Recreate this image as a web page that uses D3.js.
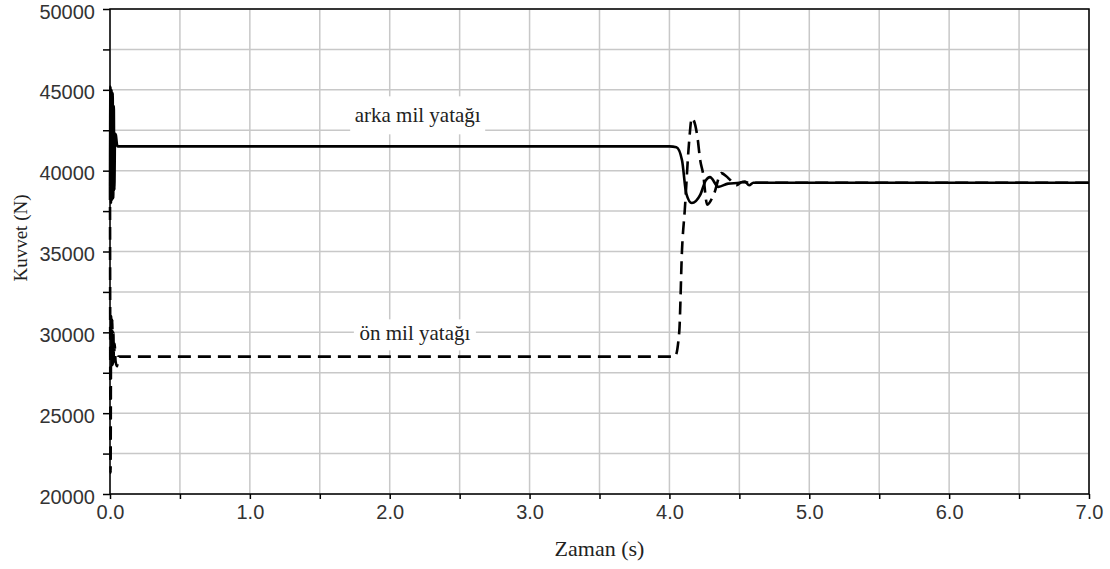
<!DOCTYPE html>
<html>
<head>
<meta charset="utf-8">
<script src="https://cdn.jsdelivr.net/npm/d3@7"></script>
<style>
  body { margin: 0; background: #fff; }
  .tick text { font-family: "Liberation Sans", Arial, sans-serif; font-size: 20px; fill: #333; }
  .ttl { font-family: "Liberation Serif", "Times New Roman", serif; fill: #222; }
</style>
</head>
<body>
<div id="chart"></div>
<script>
var width = 1110, height = 569;
var margin = {left: 110, right: 21, top: 9, bottom: 75};

// arka mil yatagi (solid)
let rearT = [0, 0.003, 0.007, 0.011, 0.015, 0.019, 0.023, 0.027, 0.031, 0.036, 0.042, 0.05, 0.056,
  4.0, 4.05, 4.09, 4.12, 4.16, 4.22, 4.26, 4.29, 4.35, 4.42, 4.5, 4.54, 4.57, 4.6, 7.0];
let rearF = [39000, 45200, 38000, 45000, 38200, 44800, 38300, 44000, 38800, 42300, 42200, 41600, 41500,
  41500, 41450, 40650, 38600, 38000, 38500, 39400, 39600, 39000, 39200, 39250, 39320, 39100, 39250, 39250];

// on mil yatagi (dashed)
let frontT = [0, 0.004, 0.008, 0.012, 0.016, 0.02, 0.024, 0.028, 0.033, 0.04, 0.05, 0.06,
  4.04, 4.07, 4.09, 4.11, 4.14, 4.16, 4.2, 4.22, 4.24, 4.27, 4.32, 4.37, 4.42, 4.48, 4.52, 4.58, 7.0];
let frontF = [39000, 21300, 31000, 27800, 30800, 28000, 30000, 28200, 29300, 28200, 27900, 28500,
  28500, 30000, 35100, 37600, 41700, 43250, 42100, 40650, 39850, 37900, 38600, 39850, 39550, 39100, 39300, 39250, 39250];

let xTicks = [0, 1, 2, 3, 4, 5, 6, 7];
let yTicks = [20000, 25000, 30000, 35000, 40000, 45000, 50000];

let svg = d3.select('#chart')
  .append('svg')
  .attr('width', width)
  .attr('height', height)

let x = d3.scaleLinear().domain([0, 7]).range([margin.left, width - margin.right]);
let y = d3.scaleLinear().domain([20000, 50000]).range([height - margin.bottom, margin.top]);

let xMinor = d3.range(0, 7.01, 0.5);
let yMinor = d3.range(20000, 50001, 2500);

// grid
svg.append('g').selectAll('line').data(xMinor).enter().append('line')
  .attr('x1', d => x(d)).attr('x2', d => x(d))
  .attr('y1', y(20000)).attr('y2', y(50000))
  .attr('stroke', '#c8c8c8').attr('stroke-width', 1.5)
svg.append('g').selectAll('line').data(yMinor).enter().append('line')
  .attr('y1', d => y(d)).attr('y2', d => y(d))
  .attr('x1', x(0)).attr('x2', x(7))
  .attr('stroke', '#c8c8c8').attr('stroke-width', 1.5)

// label boxes (cover grid)
let labels = [
  {text: 'arka mil yatağı', t: 2.2, f: 43000, w: 135, h: 38},
  {text: 'ön mil yatağı', t: 2.18, f: 29500, w: 122, h: 31}
];
labels.forEach(l => {
  svg.append('rect')
    .attr('x', x(l.t) - l.w / 2)
    .attr('y', y(l.f) - l.h * 0.68)
    .attr('width', l.w).attr('height', l.h)
    .attr('fill', '#fff')
})

// lines
let line = d3.line().x(d => x(d[0])).y(d => y(d[1])).curve(d3.curveMonotoneX);

svg.append('path')
  .datum(d3.zip(frontT, frontF))
  .attr('d', line)
  .attr('fill', 'none').attr('stroke', '#000').attr('stroke-width', 2.6)
  .attr('stroke-dasharray', '13,7')

svg.append('path')
  .datum(d3.zip(rearT, rearF))
  .attr('d', line)
  .attr('fill', 'none').attr('stroke', '#000').attr('stroke-width', 2.6)

labels.forEach(l => {
  svg.append('text').attr('class', 'ttl')
    .attr('x', x(l.t)).attr('y', y(l.f))
    .attr('text-anchor', 'middle')
    .style('font-size', '21px')
    .text(l.text)
})

// axes
let xAxis = d3.axisBottom(x).tickValues(xMinor).tickSize(5).tickPadding(6)
  .tickFormat(d => Number.isInteger(d) ? d3.format('.1f')(d) : '');
let yAxis = d3.axisLeft(y).tickValues(yMinor).tickSize(7).tickPadding(8)
  .tickFormat(d => d % 5000 === 0 ? d : '');

svg.append('g')
  .attr('transform', `translate(0, ${height - margin.bottom})`)
  .call(xAxis)
  .call(g => g.selectAll('line, path').attr('stroke', '#000').attr('stroke-width', 1.5))
  .call(g => g.select('.domain').remove())

svg.append('g')
  .attr('transform', `translate(${margin.left}, 0)`)
  .call(yAxis)
  .call(g => g.selectAll('line, path').attr('stroke', '#000').attr('stroke-width', 1.5))
  .call(g => g.select('.domain').remove())
  .call(g => g.selectAll('.tick text').attr('dy', '9px'))

// frame
svg.append('rect')
  .attr('x', x(0)).attr('y', y(50000))
  .attr('width', x(7) - x(0)).attr('height', y(20000) - y(50000))
  .attr('fill', 'none').attr('stroke', '#000').attr('stroke-width', 1.5)

svg.append('text').attr('class', 'ttl')
  .attr('x', x(3.5)).attr('y', 556)
  .attr('text-anchor', 'middle')
  .style('font-size', '22px')
  .text('Zaman (s)')

svg.append('text').attr('class', 'ttl')
  .attr('transform', `translate(27, ${238}) rotate(-90)`)
  .attr('text-anchor', 'middle')
  .style('font-size', '19px')
  .text('Kuvvet (N)')
</script>
</body>
</html>
